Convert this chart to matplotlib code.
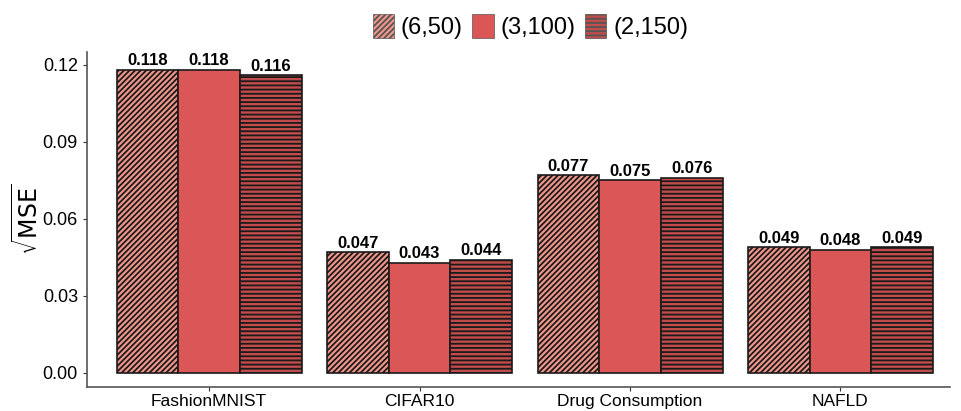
import numpy as np
import matplotlib
matplotlib.use("Agg")
import matplotlib.pyplot as plt
from matplotlib.patches import Patch

plt.rcParams['font.family'] = ['Liberation Sans', 'DejaVu Sans']
plt.rcParams['hatch.linewidth'] = 1.3
plt.rcParams['hatch.color'] = '#1a1a1a'

# Data
datasets = ['FashionMNIST', 'CIFAR10', 'Drug Consumption', 'NAFLD']
configs = ['(6,50)', '(3,100)', '(2,150)']
rmse_6_50 = [0.118, 0.047, 0.077, 0.049]
rmse_3_100 = [0.118, 0.043, 0.075, 0.048]
rmse_2_150 = [0.116, 0.044, 0.076, 0.049]

series = [rmse_6_50, rmse_3_100, rmse_2_150]
fills = ['#F4978A', '#DB5656', '#C24C4C']
hatches = ['//////', '', '----']

fig = plt.figure(figsize=(9.61, 4.11), dpi=100)
ax = fig.add_axes([0.0905, 0.0584, 0.898, 0.815])

x = np.arange(len(datasets))
width = 0.293
for i, (vals, fc, h) in enumerate(zip(series, fills, hatches)):
    pos = x + (i - 1) * width
    ax.bar(pos, vals, width, color=fc, hatch=h, edgecolor='#1a1a1a',
           linewidth=1.2, label=configs[i], zorder=2)
    for px, v in zip(pos, vals):
        ax.text(px, v + 0.0006, f'{v:.3f}', ha='center', va='bottom',
                fontsize=12, fontweight='bold', color='black')

ax.set_xlim(-0.58, 3.52)
ax.set_ylim(-0.0055, 0.125)
ax.set_yticks([0.0, 0.03, 0.06, 0.09, 0.12])
ax.set_yticklabels(['0.00', '0.03', '0.06', '0.09', '0.12'])
ax.set_xticks(x)
ax.set_xticklabels(datasets)
ax.tick_params(axis='y', labelsize=13, colors='#333333', length=3,
               width=0.8, labelcolor='black')
ax.tick_params(axis='x', labelsize=12.5, colors='#333333', length=3,
               width=0.8, labelcolor='black', pad=2)
ax.set_ylabel(r'$\sqrt{\mathrm{MSE}}$', fontsize=17, labelpad=0)

for side in ['top', 'right']:
    ax.spines[side].set_visible(False)
for side in ['left', 'bottom']:
    ax.spines[side].set_color('#555555')
    ax.spines[side].set_linewidth(1.2)

handles = [Patch(facecolor=fc, hatch=h, edgecolor='#555555', linewidth=0.5)
           for fc, h in zip(fills, hatches)]
fig.legend(handles, configs, loc='center', bbox_to_anchor=(0.552, 0.935),
           ncol=3, frameon=False, fontsize=17, handlelength=0.9,
           handleheight=1.2, handletextpad=0.3, columnspacing=0.4)

fig.savefig('out.png', dpi=100)
